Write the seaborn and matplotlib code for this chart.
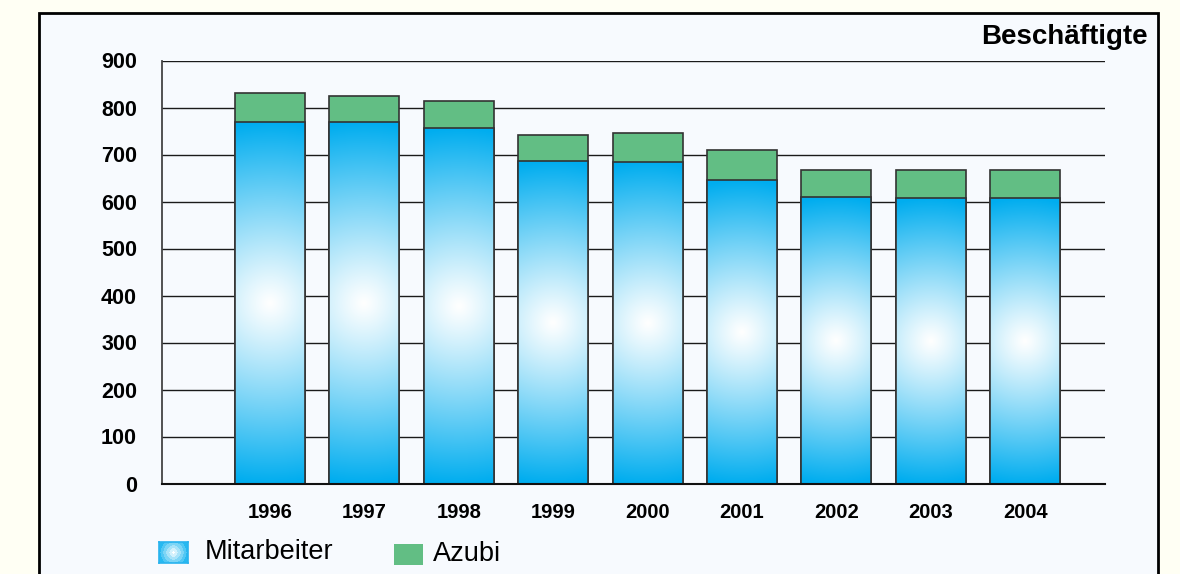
"""
Beschäftigte 1996-2004: Mitarbeiter + Azubi, gestapelte Säulen
"""

import numpy as np
import pandas as pd
import matplotlib
matplotlib.use('Agg')
import matplotlib.pyplot as plt
from matplotlib.patches import Rectangle
from matplotlib.ticker import FixedLocator
import seaborn as sns

# ============================================
# Daten
# ============================================
jahre = ['1996', '1997', '1998', '1999', '2000', '2001', '2002', '2003', '2004']
mitarbeiter = [770, 769, 757, 686, 683, 645, 610, 608, 608]
azubi = [60, 56, 56, 55, 62, 64, 58, 58, 58]
y_ticks = [0, 100, 200, 300, 400, 500, 600, 700, 800, 900]

titel = 'Beschäftigte'
legende = ['Mitarbeiter', 'Azubi']

# Farben
BLAU = np.array([0, 173, 239]) / 255.0
GRUEN = '#62BE84'
RAND = '#333333'
HINTERGRUND = '#FFFFF4'
RAHMEN_FILL = '#F7FAFE'

df = pd.DataFrame({'Jahr': jahre, 'Mitarbeiter': mitarbeiter, 'Azubi': azubi})
df['Gesamt'] = df['Mitarbeiter'] + df['Azubi']

# ============================================
# Figur
# ============================================
sns.set_theme(style='white')
plt.rcParams['font.family'] = ['Liberation Sans', 'DejaVu Sans']
plt.rcParams['text.color'] = 'black'
plt.rcParams['xtick.color'] = 'black'
plt.rcParams['ytick.color'] = 'black'

fig = plt.figure(figsize=(11.8, 5.74), dpi=100, facecolor=HINTERGRUND)

# Rahmen (unten abgeschnitten wie im Original)
rahmen = Rectangle((38.5 / 1180, -0.1), (1158 - 38.5) / 1180, 1.1 - 13 / 574,
                   transform=fig.transFigure, facecolor=RAHMEN_FILL,
                   edgecolor='black', linewidth=2.0, zorder=-10)
fig.patches.append(rahmen)

ax = fig.add_axes([162 / 1180, 1 - 483.5 / 574, (1105 - 162) / 1180, (483.5 - 60.5) / 574])
ax.set_facecolor('none')

bar_w = 0.74
sns.barplot(data=df, x='Jahr', y='Gesamt', color=GRUEN, saturation=1, width=bar_w,
            edgecolor=RAND, linewidth=1.2, ax=ax)
n_gruen = len(ax.patches)
sns.barplot(data=df, x='Jahr', y='Mitarbeiter', color=BLAU, saturation=1, width=bar_w,
            edgecolor=RAND, linewidth=1.2, ax=ax)
blaue_balken = ax.patches[n_gruen:]

x_lim = (-1.144, 8.845)
ax.set_xlim(*x_lim)
ax.set_ylim(0, 900)

# Radialer Verlauf (weiß in der Mitte, blau außen) in jede Mitarbeiter-Säule
for p in blaue_balken:
    x0, y0, w, h = p.get_x(), p.get_y(), p.get_width(), p.get_height()
    (px0, py0), (px1, py1) = ax.transData.transform([(x0, y0), (x0 + w, y0 + h)])
    nx, ny = 80, 400
    gx = np.linspace(px0, px1, nx)
    gy = np.linspace(py1, py0, ny)
    XX, YY = np.meshgrid(gx, gy)
    cx, cy = (px0 + px1) / 2, (py0 + py1) / 2
    r = np.hypot(XX - cx, YY - cy) / ((py1 - py0) / 2)
    t = np.clip(r, 0, 1) ** 1.1
    img = (1 - t)[..., None] * np.ones(3) + t[..., None] * BLAU
    im = ax.imshow(img, extent=[x0, x0 + w, y0, y0 + h], aspect='auto',
                   interpolation='bilinear', zorder=p.get_zorder() + 0.1)
    im.set_clip_path(p)
    p.set_facecolor('none')
    p.set_zorder(p.get_zorder() + 0.2)

ax.set_xlim(*x_lim)
ax.set_ylim(0, 900)

# Achsen
ax.set_axisbelow(True)
ax.yaxis.grid(True, color='#1a1a1a', linewidth=1.0)
ax.xaxis.grid(False)
ax.set_yticks(y_ticks)
ax.set_yticklabels([str(v) for v in y_ticks], fontweight='bold', fontsize=15.5)
ax.tick_params(axis='y', direction='in', length=11, width=1.5, color='#222222', pad=18)
ax.set_xticks(range(len(jahre)))
ax.set_xticklabels(jahre, fontweight='bold', fontsize=14.5)
ax.tick_params(axis='x', which='major', length=0, pad=14)
ax.xaxis.set_minor_locator(FixedLocator(np.linspace(x_lim[0], x_lim[1], 10)))
ax.tick_params(axis='x', which='minor', direction='in', length=7.5, width=1.2, color='#222222')
ax.set_xlabel('')
ax.set_ylabel('')

for s in ['top', 'right']:
    ax.spines[s].set_visible(False)
ax.spines['left'].set_color('#444444')
ax.spines['left'].set_linewidth(1.3)
ax.spines['bottom'].set_color('#111111')
ax.spines['bottom'].set_linewidth(1.5)

# Titel
fig.text(1148 / 1180, 1 - 37 / 574, titel, ha='right', va='center',
         fontsize=20, fontweight='bold', color='black')

# Legende (manuell)
lax = fig.add_axes([159 / 1180, 1 - 563 / 574, 29 / 1180, 21 / 574])
gx = np.linspace(-1, 1, 60)
gy = np.linspace(-0.72, 0.72, 44)
XX, YY = np.meshgrid(gx, gy)
r = np.clip(np.hypot(XX, YY) / 1.0, 0, 1)
r = np.round(r * 5) / 5
leg_img = (1 - r)[..., None] * np.ones(3) + r[..., None] * (BLAU * 0.85 + 0.15)
lax.imshow(leg_img, aspect='auto', interpolation='nearest')
lax.set_xticks([])
lax.set_yticks([])
for s in lax.spines.values():
    s.set_color('#29B3EE')
    s.set_linewidth(1.2)

fig.patches.append(Rectangle((394 / 1180, 1 - 565 / 574), 29 / 1180, 21 / 574,
                             transform=fig.transFigure, facecolor=GRUEN,
                             edgecolor='none', zorder=3))
fig.text(205 / 1180, 1 - 552 / 574, legende[0], ha='left', va='center', fontsize=19.5,
         color='black')
fig.text(433 / 1180, 1 - 554 / 574, legende[1], ha='left', va='center', fontsize=19.5,
         color='black')

fig.savefig('out.png', dpi=100, facecolor=HINTERGRUND)
